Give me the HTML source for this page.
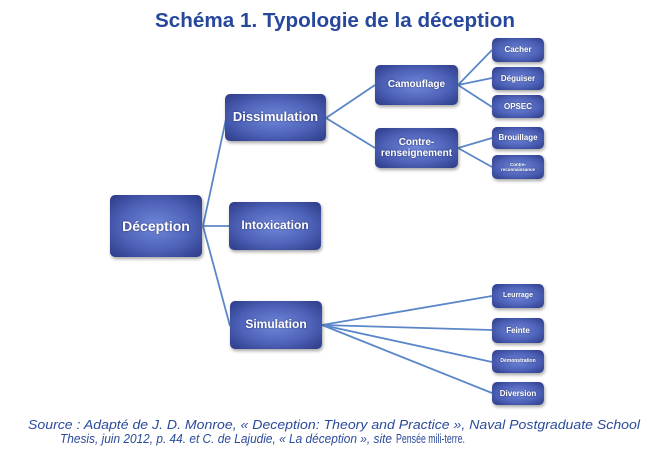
<!DOCTYPE html>
<html><head><meta charset="utf-8"><style>
html,body{margin:0;padding:0;background:#fff;width:661px;height:457px;overflow:hidden}
.b{position:absolute;border-radius:5px;background:radial-gradient(ellipse at 50% 50%,#7188da 0%,#4d62b8 55%,#2d3a86 100%);box-shadow:1px 2px 3px rgba(0,0,0,.35);color:#fff;font-family:"Liberation Sans",sans-serif;font-weight:bold;display:flex;align-items:center;justify-content:center;text-align:center;line-height:1.15;text-shadow:0 0 2px rgba(0,0,30,.5)}
</style></head><body>
<svg width="661" height="457" style="position:absolute;left:0;top:0">
<text x="335" y="27" text-anchor="middle" font-family="Liberation Sans,sans-serif" font-weight="bold" font-size="20" fill="#27479b" textLength="360" lengthAdjust="spacingAndGlyphs">Schéma 1. Typologie de la déception</text>
<g stroke="#5b87c9" stroke-width="1.8" fill="none">
<line x1="203" y1="226" x2="226" y2="119"/>
<line x1="203" y1="226" x2="229" y2="226"/>
<line x1="203" y1="226" x2="230" y2="326"/>
<line x1="326" y1="118" x2="375" y2="85"/>
<line x1="326" y1="118" x2="375" y2="148"/>
<line x1="458" y1="85" x2="492" y2="50"/>
<line x1="458" y1="85" x2="492" y2="78"/>
<line x1="458" y1="85" x2="492" y2="107"/>
<line x1="458" y1="148" x2="492" y2="138"/>
<line x1="458" y1="148" x2="492" y2="167"/>
<line x1="322" y1="325" x2="492" y2="296"/>
<line x1="322" y1="325" x2="492" y2="330"/>
<line x1="322" y1="325" x2="492" y2="362"/>
<line x1="322" y1="325" x2="492" y2="393"/>
</g>
<g font-family="Liberation Sans,sans-serif" font-size="13" fill="#2a4a9a">
<text x="28" y="429" font-style="italic" textLength="612" lengthAdjust="spacingAndGlyphs">Source : Adapté de J. D. Monroe, « Deception: Theory and Practice », Naval Postgraduate School</text>
<text x="60" y="443" font-style="italic" textLength="332" lengthAdjust="spacingAndGlyphs">Thesis, juin 2012, p. 44. et C. de Lajudie, « La déception », site</text>
<text x="396" y="443" textLength="69" lengthAdjust="spacingAndGlyphs">Pensée mili-terre.</text>
</g>
</svg>
<div class="b" style="left:110px;top:195px;width:92px;height:62px;font-size:14px">Déception</div>
<div class="b" style="left:225px;top:94px;width:101px;height:47px;font-size:13px">Dissimulation</div>
<div class="b" style="left:229px;top:202px;width:92px;height:48px;font-size:12px">Intoxication</div>
<div class="b" style="left:230px;top:301px;width:92px;height:48px;font-size:12px">Simulation</div>
<div class="b" style="left:375px;top:65px;width:83px;height:40px;font-size:10px">Camouflage</div>
<div class="b" style="left:375px;top:128px;width:83px;height:40px;font-size:10px">Contre-<br>renseignement</div>
<div class="b" style="left:492px;top:38px;width:52px;height:24px;font-size:8px">Cacher</div>
<div class="b" style="left:492px;top:67px;width:52px;height:23px;font-size:8px">Déguiser</div>
<div class="b" style="left:492px;top:95px;width:52px;height:23px;font-size:8px">OPSEC</div>
<div class="b" style="left:492px;top:127px;width:52px;height:22px;font-size:8px">Brouillage</div>
<div class="b" style="left:492px;top:155px;width:52px;height:24px;font-size:4.5px">Contre-<br>reconnaissance</div>
<div class="b" style="left:492px;top:284px;width:52px;height:24px;font-size:7px">Leurrage</div>
<div class="b" style="left:492px;top:318px;width:52px;height:25px;font-size:8px">Feinte</div>
<div class="b" style="left:492px;top:350px;width:52px;height:23px;font-size:5px">Démonstration</div>
<div class="b" style="left:492px;top:382px;width:52px;height:23px;font-size:8px">Diversion</div>
</body></html>
